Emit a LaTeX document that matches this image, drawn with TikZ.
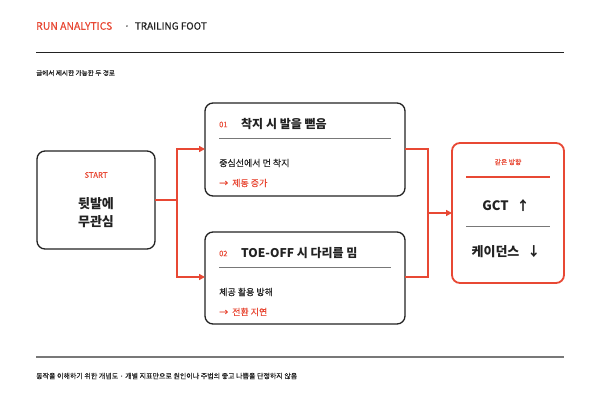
\documentclass[tikz,border=0pt]{standalone}
\usepackage{fontspec}
\setmainfont{Noto Sans CJK KR}
\newfontfamily\medfont{Noto Sans CJK KR}[FakeBold=0.4]
\usetikzlibrary{arrows.meta}
\definecolor{accent}{RGB}{232,72,52}
\definecolor{ink}{RGB}{34,34,34}
\definecolor{rule}{RGB}{120,120,120}
\begin{document}
\begin{tikzpicture}[x=1pt,y=-1pt,
  box/.style={draw=ink,line width=1.3pt,rounded corners=8pt},
  redbox/.style={draw=accent,line width=1.8pt,rounded corners=8pt},
  conn/.style={draw=accent,line width=1.6pt},
  arr/.style={conn,-{Triangle[length=6pt,width=6pt]}},
  txt/.style={inner sep=0pt,anchor=west},
  ctxt/.style={inner sep=0pt,anchor=center}]
\useasboundingbox[fill=white] (0,0) rectangle (600,400);
% header
\node[txt,text=accent,font=\medfont\fontsize{10.4}{12}\selectfont] (hdr) at (36,26) {RUN ANALYTICS};
\node[txt,text=ink,font=\medfont\fontsize{10}{12}\selectfont] (hdr2) at (124,26) {·\hspace{5pt}TRAILING FOOT};
\draw[ink,line width=1pt] (36,52) -- (564,52);
\node[txt,text=ink,font=\medfont\fontsize{6.6}{8}\selectfont] (sub) at (36,73) {글에서 제시한 가능한 두 경로};
% start box
\draw[box] (37,151) rectangle (155,249);
\coordinate (startE) at (155,200);
\node[ctxt,text=accent,font=\medfont\fontsize{7.8}{9}\selectfont] (st) at (96,175) {START};
\node[ctxt,text=ink,font=\bfseries\fontsize{13}{16}\selectfont,align=center] (stt) at (96,213) {뒷발에\\[2pt]무관심};
% box 1
\draw[box] (205,103) rectangle (405,196);
\coordinate (b1W) at (205,149);
\coordinate (b1E) at (405,149);
\node[txt,text=accent,font=\medfont\fontsize{7.5}{9}\selectfont] (n1) at (219,124.5) {01};
\node[txt,text=ink,font=\bfseries\fontsize{12}{14}\selectfont] (t1) at (241,124) {착지 시 발을 뻗음};
\draw[rule,line width=0.8pt] (219,138) -- (391,138);
\node[txt,text=ink,font=\medfont\fontsize{9}{11}\selectfont] (d1) at (219,163) {중심선에서 먼 착지};
\node[txt,text=accent,font=\medfont\fontsize{9}{11}\selectfont] (r1) at (219,183) {→\hspace{4pt}제동 증가};
% box 2
\draw[box] (205,232) rectangle (405,324);
\coordinate (b2W) at (205,277);
\coordinate (b2E) at (405,277);
\node[txt,text=accent,font=\medfont\fontsize{7.5}{9}\selectfont] (n2) at (219,253.5) {02};
\node[txt,text=ink,font=\bfseries\fontsize{12}{14}\selectfont] (t2) at (241,253) {TOE-OFF 시 다리를 밈};
\draw[rule,line width=0.8pt] (219,267) -- (391,267);
\node[txt,text=ink,font=\medfont\fontsize{9}{11}\selectfont] (d2) at (219,292) {체공 활용 방해};
\node[txt,text=accent,font=\medfont\fontsize{9}{11}\selectfont] (r2) at (219,312) {→\hspace{4pt}전환 지연};
% result box
\draw[redbox] (452,143) rectangle (564,283);
\coordinate (rW) at (452,213);
\node[ctxt,text=accent,font=\medfont\fontsize{6.8}{8}\selectfont] (same) at (508,162) {같은 방향};
\draw[accent,line width=1.3pt] (466,177) -- (550,177);
\node[ctxt,text=ink,font=\bfseries\fontsize{13}{15}\selectfont] (gct) at (506,206) {GCT\hspace{8pt}↑};
\draw[rule,line width=0.8pt] (466,226) -- (550,226);
\node[ctxt,text=ink,font=\bfseries\fontsize{13}{15}\selectfont] (cad) at (506,252) {케이던스\hspace{8pt}↓};
% connectors
\coordinate (j1) at (177,200);
\draw[conn] (startE) -- (j1);
\draw[arr] (j1) |- (b1W);
\draw[arr] (j1) |- (b2W);
\coordinate (j2) at (428,213);
\draw[conn] (b1E) -| (j2);
\draw[conn] (b2E) -| (j2);
\draw[arr] (j2) -- (rW);
% footer
\draw[rule,line width=1.2pt] (36,357) -- (564,357);
\node[txt,text=ink,font=\medfont\fontsize{7}{8}\selectfont] (foot) at (36,376) {동작을 이해하기 위한 개념도 · 개별 지표만으로 원인이나 주법의 좋고 나쁨을 단정하지 않음};
\end{tikzpicture}
\end{document}
